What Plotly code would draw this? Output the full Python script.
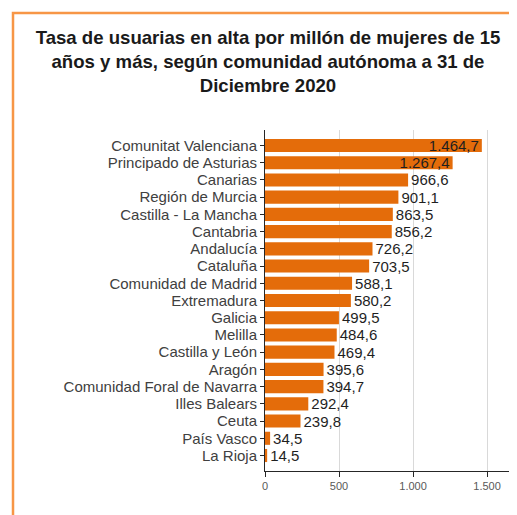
import plotly.graph_objects as go

regions = ["Comunitat Valenciana", "Principado de Asturias", "Canarias", "Región de Murcia",
           "Castilla - La Mancha", "Cantabria", "Andalucía", "Cataluña", "Comunidad de Madrid",
           "Extremadura", "Galicia", "Melilla", "Castilla y León", "Aragón",
           "Comunidad Foral de Navarra", "Illes Balears", "Ceuta", "País Vasco", "La Rioja"]
rates = [1464.7, 1267.4, 966.6, 901.1, 863.5, 856.2, 726.2, 703.5, 588.1, 580.2,
         499.5, 484.6, 469.4, 395.6, 394.7, 292.4, 239.8, 34.5, 14.5]
tick_vals = [0, 500, 1000, 1500]
tick_text = ["0", "500", "1.000", "1.500"]


def es_fmt(v):
    s = f"{v:,.1f}"
    return s.replace(",", "X").replace(".", ",").replace("X", ".")


labels = [es_fmt(v) for v in rates]
positions = ["inside" if v > 1000 else "outside" for v in rates]

FONT = "Liberation Sans, Arial, sans-serif"
n = len(regions)
fig = go.Figure(go.Bar(
    x=rates, y=regions, orientation="h",
    marker=dict(color="#E46C0A", line=dict(width=0)),
    text=labels, textposition=positions, insidetextanchor="end",
    constraintext="none",
    textfont=dict(family=FONT, size=15, color="#1f1f1f"),
    insidetextfont=dict(color="#1f1f1f"),
    outsidetextfont=dict(color="#1f1f1f"),
    cliponaxis=False,
))

# figure is placed by the page at an 8px offset
W, H = 509, 507
L, R, T, B = 257, 7, 122, 44
pw, ph = W - L - R, H - T - B


def px(x):
    return (x - L) / pw


def py(y):
    return (H - B - y) / ph


fig.update_layout(
    width=W, height=H,
    margin=dict(l=L, r=R, t=T, b=B),
    paper_bgcolor="white", plot_bgcolor="white",
    font=dict(family=FONT, color="#404040"),
    showlegend=False,
    bargap=0.24,
    title=dict(
        text="<b>Tasa de usuarias en alta por millón de mujeres de 15<br>años y más, según comunidad autónoma a 31 de<br>Diciembre 2020</b>",
        x=260 / W, xanchor="center", y=1 - 36 / H, yanchor="middle",
        font=dict(size=18.6, color="#1a1a1a", family=FONT),
    ),
    xaxis=dict(
        range=[0, 1655], tickvals=tick_vals, ticktext=tick_text,
        showgrid=True, gridcolor="#D9D9D9", gridwidth=1, zeroline=False,
        showline=True, linecolor="#262626", linewidth=1,
        ticks="outside", ticklen=5, tickcolor="#262626",
        tickfont=dict(size=11, color="#595959"),
    ),
    yaxis=dict(
        range=[n - 1 + 0.9, -0.9], categoryorder="array", categoryarray=regions,
        tickmode="array", tickvals=regions, ticktext=regions,
        showgrid=False, zeroline=False,
        showline=True, linecolor="#262626", linewidth=1,
        ticks="outside", ticklen=4, tickcolor="#262626",
        tickfont=dict(size=15, color="#404040"),
    ),
    shapes=[dict(
        type="rect", xref="paper", yref="paper",
        x0=px(5), x1=px(520), y0=py(5), y1=py(520),
        line=dict(color="#F79646", width=2.5), fillcolor="rgba(0,0,0,0)", layer="above",
    )],
)

fig.write_html("out.html")
